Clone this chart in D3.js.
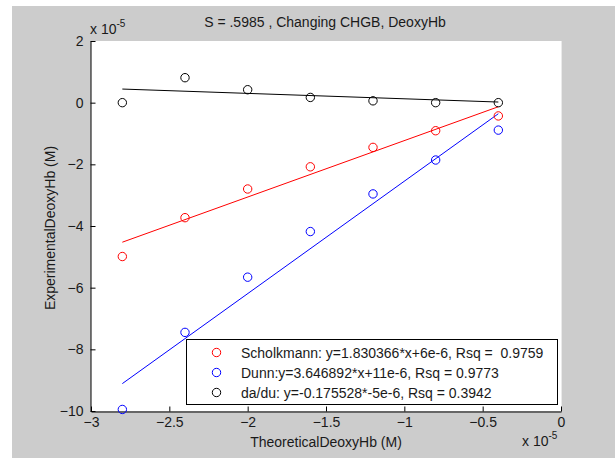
<!DOCTYPE html>
<html>
<head>
<meta charset="utf-8">
<script src="https://cdn.jsdelivr.net/npm/d3@7"></script>
<style>
  html, body { margin: 0; padding: 0; background: #ffffff; }
  svg { display: block; font-family: "Liberation Sans", Arial, sans-serif; }
  text { white-space: pre; }
</style>
</head>
<body>
<svg id="chart" width="615" height="458"></svg>
<script>
// Values are in units of 1e-5 M (axis multiplier shown as "x 10^-5")
const theoretical = [-2.8, -2.4, -2.0, -1.6, -1.2, -0.8, -0.4];
const scholkmann = [-4.99, -3.73, -2.80, -2.08, -1.45, -0.91, -0.43];
const dunn       = [-9.95, -7.45, -5.66, -4.18, -2.96, -1.86, -0.89];
const dadu       = [0.00, 0.81, 0.42, 0.17, 0.06, 0.00, 0.00];

// Linear fits (slope, intercept in 1e-5 units)
const fitSlopes     = [1.830366, 3.646892, -0.175528];
const fitIntercepts = [0.6, 1.1, -0.05];

const seriesNames = ["Scholkmann", "Dunn", "da/du"];
const seriesColors = ["#ff0000", "#0000ff", "#000000"];
const legendLabels = [
  "Scholkmann: y=1.830366*x+6e-6, Rsq =  0.9759",
  "Dunn:y=3.646892*x+11e-6, Rsq = 0.9773",
  "da/du: y=-0.175528*-5e-6, Rsq = 0.3942"
];
const xTicks = [-3, -2.5, -2, -1.5, -1, -0.5, 0];
const yTicks = [2, 0, -2, -4, -6, -8, -10];

const titleText = "S = .5985 , Changing CHGB, DeoxyHb";
const xLabel = "TheoreticalDeoxyHb (M)";
const yLabel = "ExperimentalDeoxyHb (M)";

const svg = d3.select("#chart");

// figure background
svg.append("rect").attr("x", 12).attr("y", 6).attr("width", 603).attr("height", 452)
  .attr("fill", "#cccccc");

const plot = { left: 91, top: 41, right: 561, bottom: 411 };
const x = d3.scaleLinear().domain([-3, 0]).range([plot.left, plot.right]);
const y = d3.scaleLinear().domain([-10, 2]).range([plot.bottom, plot.top]);

svg.append("rect")
  .attr("x", plot.left).attr("y", plot.top)
  .attr("width", plot.right - plot.left).attr("height", plot.bottom - plot.top)
  .attr("fill", "#ffffff");
svg.append("line")
  .attr("x1", plot.right + 0.5).attr("x2", plot.right + 0.5)
  .attr("y1", plot.top).attr("y2", plot.bottom)
  .attr("stroke", "#eaeaea");

const fontSize = 14;
const textColor = "#1a1a1a";

// axes
const xAxis = d3.axisBottom(x).tickValues(xTicks).tickSizeInner(-5).tickSizeOuter(0)
  .tickPadding(9).tickFormat(d => d3.format("")(d));
const gx = svg.append("g").attr("transform", `translate(0,${plot.bottom + 0.5})`).call(xAxis);
const yAxis = d3.axisLeft(y).tickValues(yTicks).tickSizeInner(-5).tickSizeOuter(0)
  .tickPadding(10).tickFormat(d => d3.format("")(d));
const gy = svg.append("g").attr("transform", `translate(${plot.left - 0.5},0)`).call(yAxis);

[gx, gy].forEach(g => {
  g.select(".domain").attr("stroke", "#000").attr("stroke-width", 1);
  g.selectAll(".tick line").attr("stroke", "#000");
  g.selectAll("text").attr("font-size", fontSize).attr("fill", textColor)
    .attr("font-family", "Liberation Sans, Arial, sans-serif");
});
gx.selectAll("text").attr("dy", "0.45em");
gy.selectAll("text").attr("dx", "3");

// exponent multipliers
function multiplier(xp, yp) {
  const t = svg.append("text").attr("x", xp).attr("y", yp)
    .attr("font-size", fontSize).attr("fill", textColor);
  t.append("tspan").text("x 10");
  t.append("tspan").attr("dy", -7).attr("font-size", 10).text("-5");
}
multiplier(90, 34);
multiplier(522, 446);

// title and axis labels
svg.append("text").attr("x", 325).attr("y", 27).attr("text-anchor", "middle")
  .attr("font-size", fontSize).attr("fill", textColor).text(titleText);
svg.append("text").attr("x", 326).attr("y", 447).attr("text-anchor", "middle")
  .attr("font-size", fontSize).attr("fill", textColor).text(xLabel);
svg.append("text").attr("transform", "translate(55,228) rotate(-90)")
  .attr("text-anchor", "middle").attr("font-size", fontSize).attr("fill", textColor)
  .text(yLabel);

// fit lines and data points
const seriesValues = [scholkmann, dunn, dadu];
const xMin = d3.min(theoretical), xMax = d3.max(theoretical);
seriesValues.forEach((vals, i) => {
  const fit = [xMin, xMax].map(v => [v, fitSlopes[i] * v + fitIntercepts[i]]);
  svg.append("path")
    .attr("d", d3.line().x(d => x(d[0])).y(d => y(d[1]))(fit))
    .attr("fill", "none").attr("stroke", seriesColors[i]).attr("stroke-width", 1);
});
seriesValues.forEach((vals, i) => {
  svg.append("g").selectAll("circle").data(vals).join("circle")
    .attr("cx", (d, j) => x(theoretical[j]))
    .attr("cy", d => y(d))
    .attr("r", 4.2)
    .attr("fill", "none").attr("stroke", seriesColors[i]).attr("stroke-width", 1);
});

// legend
const legend = { left: 186, top: 339, right: 557, bottom: 404 };
svg.append("rect")
  .attr("x", legend.left + 0.5).attr("y", legend.top + 0.5)
  .attr("width", legend.right - legend.left).attr("height", legend.bottom - legend.top)
  .attr("fill", "#ffffff").attr("stroke", "#000").attr("stroke-width", 1);
seriesNames.forEach((name, i) => {
  const cy = 352.5 + i * 20;
  svg.append("circle").attr("cx", 216.5).attr("cy", cy).attr("r", 4.2)
    .attr("fill", "none").attr("stroke", seriesColors[i]).attr("stroke-width", 1);
  svg.append("text").attr("x", 241).attr("y", cy).attr("dy", "0.36em")
    .attr("font-size", fontSize).attr("fill", textColor).text(legendLabels[i]);
});
</script>
</body>
</html>
